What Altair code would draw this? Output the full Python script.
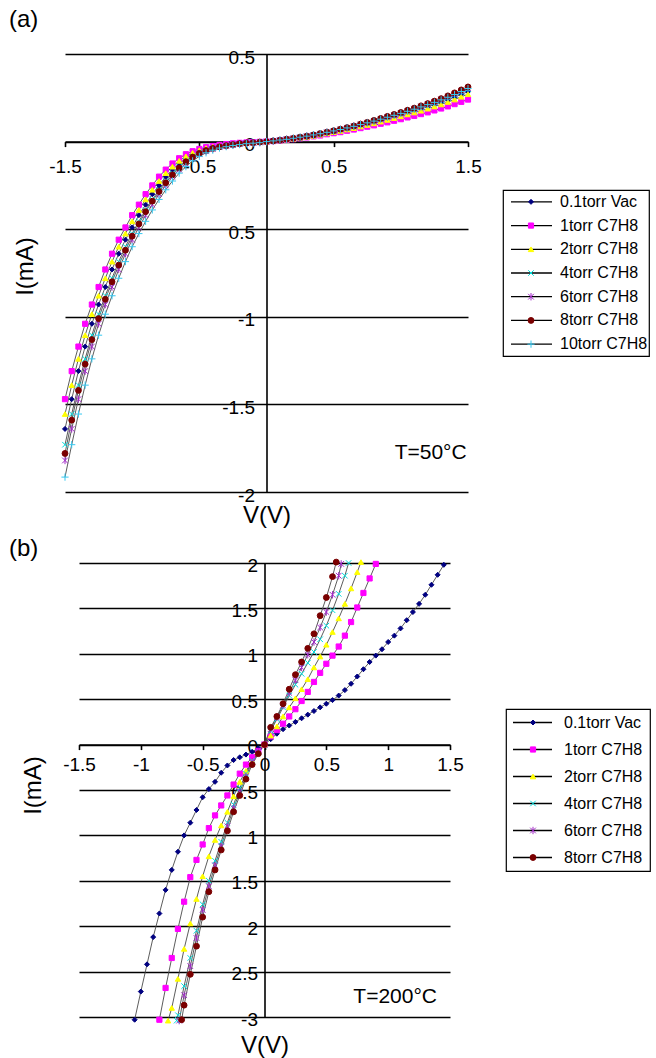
import altair as alt
import pandas as pd

FONT = "Liberation Sans"

SERIES = ["0.1torr Vac", "1torr C7H8", "2torr C7H8", "4torr C7H8",
          "6torr C7H8", "8torr C7H8", "10torr C7H8"]
COLORS = ["#000080", "#ff00ff", "#ffff00", "#00dede", "#a22cc8", "#7a0000", "#36c8f0"]
SHAPES = ["diamond", "square", "triangle-up", "M-1,-1L1,1M-1,1L1,-1",
          "M-1,-1L1,1M-1,1L1,-1M0,-1.3L0,1.3", "circle", "M-1.2,0L1.2,0M0,-1.2L0,1.2"]
SIZES_A = [25, 36, 45, 25, 30, 40, 36]
SIZES_B = [28, 30, 45, 25, 30, 40, 36]

# ---------------- panel (a), T=50 C ----------------
V_A = [-1.5, -1.45, -1.4, -1.35, -1.3, -1.25, -1.2, -1.15, -1.1, -1.05, -1.0,
       -0.95, -0.9, -0.85, -0.8, -0.75, -0.7, -0.65, -0.6, -0.55, -0.5, -0.45,
       -0.4, -0.35, -0.3, -0.25, -0.2, -0.15, -0.1, -0.05, 0.0, 0.05, 0.1, 0.15,
       0.2, 0.25, 0.3, 0.35, 0.4, 0.45, 0.5, 0.55, 0.6, 0.65, 0.7, 0.75, 0.8,
       0.85, 0.9, 0.95, 1.0, 1.05, 1.1, 1.15, 1.2, 1.25, 1.3, 1.35, 1.4, 1.45, 1.5]

I_A_VAC = [-1.64, -1.47, -1.31, -1.17, -1.04, -0.93, -0.83, -0.73, -0.64, -0.56,
           -0.49, -0.42, -0.36, -0.30, -0.25, -0.20, -0.16, -0.125, -0.095, -0.072,
           -0.055, -0.042, -0.032, -0.025, -0.019, -0.014, -0.010, -0.007, -0.005, -0.003,
           0.0,
           0.004, 0.008, 0.012, 0.017, 0.023, 0.029, 0.035, 0.042, 0.049, 0.057,
           0.065, 0.073, 0.082, 0.091, 0.101, 0.110, 0.121, 0.131, 0.142, 0.152,
           0.163, 0.175, 0.186, 0.199, 0.211, 0.224, 0.238, 0.254, 0.270, 0.285]
I_A_1 = [-1.47, -1.31, -1.17, -1.04, -0.93, -0.83, -0.73, -0.64, -0.56, -0.49,
         -0.42, -0.36, -0.30, -0.25, -0.20, -0.16, -0.125, -0.095, -0.072, -0.055,
         -0.042, -0.032, -0.025, -0.019, -0.014, -0.010, -0.007, -0.005, -0.003, -0.0015,
         0.0,
         0.003, 0.006, 0.010, 0.014, 0.019, 0.024, 0.030, 0.035, 0.042, 0.048,
         0.054, 0.062, 0.069, 0.077, 0.085, 0.093, 0.102, 0.110, 0.119, 0.128,
         0.138, 0.147, 0.157, 0.167, 0.178, 0.189, 0.201, 0.214, 0.227, 0.240]
I_A_2 = [-1.555, -1.39, -1.24, -1.105, -0.985, -0.88, -0.78, -0.685, -0.60, -0.525,
         -0.455, -0.39, -0.33, -0.275, -0.225, -0.18, -0.143, -0.11, -0.084, -0.064,
         -0.049, -0.037, -0.029, -0.022, -0.017, -0.012, -0.009, -0.006, -0.004, -0.002,
         0.0,
         0.004, 0.007, 0.012, 0.016, 0.022, 0.027, 0.033, 0.040, 0.047, 0.054,
         0.061, 0.069, 0.077, 0.086, 0.095, 0.104, 0.114, 0.124, 0.134, 0.144,
         0.155, 0.166, 0.176, 0.188, 0.200, 0.212, 0.226, 0.240, 0.256, 0.270]
I_A_4 = [-1.73, -1.555, -1.39, -1.24, -1.105, -0.985, -0.88, -0.78, -0.685, -0.60,
         -0.525, -0.455, -0.39, -0.33, -0.275, -0.225, -0.18, -0.143, -0.11, -0.084,
         -0.064, -0.049, -0.037, -0.029, -0.022, -0.017, -0.012, -0.009, -0.006, -0.004,
         0.0,
         0.004, 0.008, 0.013, 0.018, 0.024, 0.030, 0.037, 0.044, 0.052, 0.060,
         0.068, 0.077, 0.086, 0.096, 0.106, 0.116, 0.127, 0.138, 0.149, 0.160,
         0.172, 0.184, 0.196, 0.209, 0.222, 0.236, 0.251, 0.267, 0.284, 0.300]
I_A_6 = [-1.82, -1.64, -1.47, -1.31, -1.17, -1.04, -0.93, -0.83, -0.73, -0.64,
         -0.56, -0.49, -0.42, -0.36, -0.30, -0.25, -0.20, -0.16, -0.125, -0.095,
         -0.072, -0.055, -0.042, -0.032, -0.025, -0.019, -0.014, -0.010, -0.007, -0.005,
         0.0,
         0.004, 0.008, 0.013, 0.018, 0.024, 0.031, 0.038, 0.045, 0.053, 0.061,
         0.069, 0.079, 0.088, 0.098, 0.108, 0.118, 0.130, 0.141, 0.152, 0.163,
         0.175, 0.188, 0.200, 0.213, 0.226, 0.241, 0.256, 0.272, 0.290, 0.306]
I_A_8 = [-1.78, -1.59, -1.42, -1.27, -1.13, -1.01, -0.90, -0.80, -0.705, -0.62,
         -0.54, -0.47, -0.40, -0.34, -0.285, -0.235, -0.19, -0.15, -0.115, -0.088,
         -0.067, -0.051, -0.039, -0.030, -0.023, -0.017, -0.012, -0.009, -0.006, -0.003,
         0.0,
         0.004, 0.008, 0.014, 0.019, 0.025, 0.031, 0.038, 0.046, 0.054, 0.062,
         0.071, 0.080, 0.089, 0.100, 0.110, 0.121, 0.132, 0.144, 0.155, 0.166,
         0.179, 0.191, 0.204, 0.217, 0.231, 0.245, 0.261, 0.278, 0.295, 0.312]
I_A_10 = [-1.915, -1.73, -1.555, -1.39, -1.24, -1.105, -0.985, -0.88, -0.78, -0.685,
          -0.60, -0.525, -0.455, -0.39, -0.33, -0.275, -0.225, -0.18, -0.143, -0.11,
          -0.084, -0.064, -0.049, -0.037, -0.029, -0.022, -0.017, -0.012, -0.009, -0.006,
          0.0,
          0.004, 0.009, 0.013, 0.019, 0.025, 0.031, 0.038, 0.045, 0.053, 0.061,
          0.069, 0.078, 0.087, 0.097, 0.107, 0.117, 0.128, 0.139, 0.150, 0.161,
          0.173, 0.185, 0.198, 0.211, 0.224, 0.238, 0.253, 0.269, 0.286, 0.303]

XT_A = [-1.5, -0.5, 0.5, 1.5]
XL_A = ["-1.5", "-0.5", "0.5", "1.5"]
YT_A = [0.5, 0.0, -0.5, -1.0, -1.5, -2.0]
YL_A = ["0.5", "0", "0.5", "-1", "-1.5", "-2"]

# ---------------- panel (b), T=200 C ----------------
V_B_VAC = [-1.05, -1.0, -0.95, -0.9, -0.85, -0.8, -0.75, -0.7, -0.65, -0.6, -0.55,
           -0.5, -0.45, -0.4, -0.35, -0.3, -0.25, -0.2, -0.15, -0.1, -0.05, 0.0,
           0.05, 0.1, 0.15, 0.2, 0.25, 0.3, 0.35, 0.4, 0.45, 0.5, 0.55, 0.6, 0.65,
           0.7, 0.75, 0.8, 0.85, 0.9, 0.95, 1.0, 1.05, 1.1, 1.15, 1.2, 1.25, 1.3,
           1.35, 1.4, 1.45]
I_B_VAC = [-3.03, -2.72, -2.42, -2.12, -1.86, -1.60, -1.38, -1.18, -1.00, -0.86, -0.72,
           -0.58, -0.49, -0.41, -0.31, -0.23, -0.17, -0.14, -0.11, -0.08, -0.04, 0.0,
           0.06, 0.12, 0.17, 0.21, 0.25, 0.29, 0.33, 0.37, 0.41, 0.45, 0.49, 0.54, 0.60,
           0.67, 0.75, 0.83, 0.91, 0.98, 1.05, 1.13, 1.20, 1.28, 1.37, 1.46, 1.55, 1.65,
           1.76, 1.87, 1.98]
V_B_1 = [-0.85, -0.8, -0.75, -0.7, -0.65, -0.6, -0.55, -0.5, -0.45, -0.4, -0.35, -0.3,
         -0.25, -0.2, -0.15, -0.1, -0.05, 0.0, 0.05, 0.1, 0.15, 0.2, 0.25, 0.3, 0.35,
         0.4, 0.45, 0.5, 0.55, 0.6, 0.65, 0.7, 0.75, 0.8, 0.85, 0.9]
I_B_1 = [-3.03, -2.68, -2.35, -2.03, -1.73, -1.46, -1.27, -1.10, -0.92, -0.78, -0.67, -0.56,
         -0.44, -0.32, -0.22, -0.14, -0.07, 0.0, 0.09, 0.16, 0.23, 0.31, 0.39, 0.48, 0.58,
         0.69, 0.79, 0.89, 0.98, 1.08, 1.20, 1.35, 1.51, 1.67, 1.83, 1.99]
V_B_2 = [-0.78, -0.75, -0.7, -0.65, -0.6, -0.55, -0.5, -0.45, -0.4, -0.35, -0.3, -0.25,
         -0.2, -0.15, -0.1, -0.05, 0.0, 0.05, 0.1, 0.15, 0.2, 0.25, 0.3, 0.35, 0.4,
         0.45, 0.5, 0.55, 0.6, 0.65, 0.7, 0.75, 0.78]
I_B_2 = [-3.04, -2.90, -2.58, -2.25, -1.97, -1.70, -1.45, -1.23, -1.05, -0.89, -0.74, -0.57,
         -0.41, -0.29, -0.19, -0.09, 0.0, 0.10, 0.20, 0.31, 0.41, 0.51, 0.61, 0.72, 0.85,
         0.97, 1.10, 1.24, 1.39, 1.55, 1.72, 1.90, 2.01]
V_B_4 = [-0.71, -0.7, -0.65, -0.6, -0.55, -0.5, -0.45, -0.4, -0.35, -0.3, -0.25, -0.2,
         -0.15, -0.1, -0.05, 0.0, 0.05, 0.1, 0.15, 0.2, 0.25, 0.3, 0.35, 0.4, 0.45,
         0.5, 0.55, 0.6, 0.65, 0.68]
I_B_4 = [-3.04, -2.98, -2.66, -2.35, -2.05, -1.76, -1.50, -1.28, -1.07, -0.86, -0.66, -0.48,
         -0.32, -0.18, -0.08, 0.0, 0.15, 0.28, 0.41, 0.54, 0.66, 0.78, 0.90, 1.02, 1.16,
         1.31, 1.48, 1.66, 1.86, 2.00]
V_B_6 = [-0.69, -0.65, -0.6, -0.55, -0.5, -0.45, -0.4, -0.35, -0.3, -0.25, -0.2, -0.15,
         -0.1, -0.05, 0.0, 0.05, 0.1, 0.15, 0.2, 0.25, 0.3, 0.35, 0.4, 0.45, 0.5,
         0.55, 0.6, 0.62]
I_B_6 = [-3.04, -2.76, -2.44, -2.13, -1.82, -1.56, -1.33, -1.12, -0.90, -0.70, -0.52, -0.35,
         -0.19, -0.08, 0.0, 0.17, 0.30, 0.43, 0.57, 0.71, 0.85, 0.99, 1.13, 1.29, 1.46,
         1.65, 1.86, 1.99]
V_B_8 = [-0.67, -0.65, -0.6, -0.55, -0.5, -0.45, -0.4, -0.35, -0.3, -0.25, -0.2, -0.15,
         -0.1, -0.05, 0.0, 0.05, 0.1, 0.15, 0.2, 0.25, 0.3, 0.35, 0.4, 0.45, 0.5,
         0.55, 0.58]
I_B_8 = [-3.03, -2.87, -2.53, -2.22, -1.90, -1.62, -1.38, -1.16, -0.95, -0.74, -0.56, -0.38,
         -0.22, -0.10, 0.0, 0.19, 0.31, 0.45, 0.61, 0.77, 0.91, 1.06, 1.22, 1.42, 1.62,
         1.85, 2.01]

XT_B = [-1.5, -1.0, -0.5, 0.0, 0.5, 1.0, 1.5]
XL_B = ["-1.5", "-1", "-0.5", "0", "0.5", "1", "1.5"]
YT_B = [2.0, 1.5, 1.0, 0.5, 0.0, -0.5, -1.0, -1.5, -2.0, -2.5, -3.0]
YL_B = ["2", "1.5", "1", "0.5", "0", "0.5", "1", "1.5", "2", "2.5", "-3"]


def make_df(names, vlists, ilists):
    rows = []
    for name, vs, cur in zip(names, vlists, ilists):
        assert len(vs) == len(cur), name
        for v, i in zip(vs, cur):
            rows.append({"series": name, "V": v, "I": i})
    return pd.DataFrame(rows)


DF_A = make_df(SERIES, [V_A] * 7, [I_A_VAC, I_A_1, I_A_2, I_A_4, I_A_6, I_A_8, I_A_10])
DF_B = make_df(SERIES[:6], [V_B_VAC, V_B_1, V_B_2, V_B_4, V_B_6, V_B_8],
               [I_B_VAC, I_B_1, I_B_2, I_B_4, I_B_6, I_B_8])


def lab_expr(vals, labs):
    parts = [f"datum.value == {v} ? '{l}'" for v, l in zip(vals, labs)]
    return " : ".join(parts) + " : ''"


def marker_enc(series, sizes):
    n = len(series)
    return dict(
        shape=alt.Shape("series:N", scale=alt.Scale(domain=series, range=SHAPES[:n]), legend=None),
        fill=alt.Fill("series:N", scale=alt.Scale(domain=series, range=COLORS[:n]), legend=None),
        stroke=alt.Stroke("series:N", scale=alt.Scale(domain=series, range=COLORS[:n]), legend=None),
        size=alt.Size("series:N", scale=alt.Scale(domain=series, range=sizes[:n]), legend=None),
    )


def panel(df, series, sizes, W, H, xdom, ydom, xt, xl, yt, yl, xlp, ylp, ylo,
          xty, ytx, yty, tag, tag_x, tag_y, note, note_v, note_i):
    y0 = H * ydom[1] / (ydom[1] - ydom[0])
    xs = alt.Scale(domain=xdom, nice=False, zero=False)
    ys = alt.Scale(domain=ydom, nice=False, zero=False)
    x_axis = alt.Axis(values=xt, labelExpr=lab_expr(xt, xl), orient="bottom",
                      offset=-(H - y0), grid=False, domain=True, domainColor="black",
                      domainWidth=1.6, ticks=True, tickSize=5, tickColor="black",
                      tickWidth=1.6, labelFont=FONT, labelFontSize=19, labelColor="black",
                      labelPadding=xlp, labelFlush=False, labelOverlap=False,
                      title="V(V)", titleFont=FONT, titleFontSize=24,
                      titleFontWeight="normal", titleColor="black", titleY=xty)
    y_axis = alt.Axis(values=yt, labelExpr=lab_expr(yt, yl), orient="left",
                      offset=-W / 2, grid=True, gridColor="black", gridWidth=1.6,
                      domain=True, domainColor="black", domainWidth=1.6, ticks=False,
                      tickSize=0, labelFont=FONT, labelFontSize=19, labelColor="black",
                      labelPadding=ylp, labelOffset=ylo, labelOverlap=False,
                      labelFlush=False, minExtent=0,
                      title="I(mA)", titleFont=FONT, titleFontSize=24,
                      titleFontWeight="normal", titleColor="black", titleX=ytx, titleY=yty)
    base = alt.Chart(df)
    lines = base.mark_line(color="#4a4a4a", strokeWidth=0.9).encode(
        x=alt.X("V:Q", scale=xs, axis=x_axis),
        y=alt.Y("I:Q", scale=ys, axis=y_axis),
        detail="series:N",
    )
    pts = base.mark_point(filled=True, strokeWidth=1, opacity=1).encode(
        x=alt.X("V:Q", scale=xs),
        y=alt.Y("I:Q", scale=ys),
        **marker_enc(series, sizes),
    )
    note_c = alt.Chart(pd.DataFrame({"V": [note_v], "I": [note_i], "t": [note]})).mark_text(
        align="right", baseline="middle", font=FONT, fontSize=21, color="black"
    ).encode(x=alt.X("V:Q", scale=xs), y=alt.Y("I:Q", scale=ys), text="t:N")
    tag_c = alt.Chart(pd.DataFrame({"t": [tag]})).mark_text(
        align="left", baseline="middle", font=FONT, fontSize=24, color="black"
    ).encode(x=alt.value(tag_x), y=alt.value(tag_y), text="t:N")
    return alt.layer(lines, pts, note_c, tag_c).properties(width=W, height=H)


def legend_box(series, sizes, W, H, rx1, rx2, mx, tx, fs):
    ldf = pd.DataFrame({"series": series})
    y = alt.Y("series:N", sort=series, scale=alt.Scale(domain=series), axis=None)
    rule = alt.Chart(ldf).mark_rule(color="black", strokeWidth=1.3).encode(
        x=alt.value(rx1), x2=alt.value(rx2), y=y)
    pts = alt.Chart(ldf).mark_point(filled=True, strokeWidth=1, opacity=1).encode(
        x=alt.value(mx), y=y, **marker_enc(series, sizes))
    txt = alt.Chart(ldf).mark_text(align="left", baseline="middle", font=FONT,
                                   fontSize=fs, color="black").encode(
        x=alt.value(tx), y=y, text="series:N")
    return alt.layer(rule, pts, txt).properties(
        width=W, height=H, view=alt.ViewBackground(stroke="black", strokeWidth=1.2))


WA, HA = 403, 438
WB, HB = 371, 454

panel_a = panel(DF_A, SERIES, SIZES_A, WA, HA, [-1.5, 1.5], [-2.0, 0.5],
                XT_A, XL_A, YT_A, YL_A, xlp=11, ylp=12, ylo=3,
                xty=362, ytx=-229.5, yty=212, tag="(a)", tag_x=-56, tag_y=-34,
                note="T=50°C", note_v=1.49, note_i=-1.778)
panel_b = panel(DF_B, SERIES[:6], SIZES_B, WB, HB, [-1.5, 1.5], [-3.0, 2.0],
                XT_B, XL_B, YT_B, YL_B, xlp=6, ylp=7, ylo=2,
                xty=289, ytx=-219, yty=222, tag="(b)", tag_x=-70, tag_y=-14,
                note="T=200°C", note_v=1.395, note_i=-2.78)

legend_a = legend_box(SERIES, SIZES_A, 146, 166, 8, 49, 28, 57, 16)
legend_b = legend_box(SERIES[:6], SIZES_B, 144, 162, 7, 46, 27, 58, 16)

# small empty spacer so that panel (b) starts a little to the right of panel (a)
spacer = alt.Chart(pd.DataFrame({"s": [0]})).mark_point(opacity=0).encode(
    x=alt.value(0), y=alt.value(0)).properties(width=1, height=1)

row_a = alt.hconcat(panel_a, legend_a, spacing=35, center=True, bounds="flush")
row_b = alt.hconcat(
    spacer,
    alt.hconcat(panel_b, legend_b, spacing=56, center=True, bounds="flush"),
    spacing=13, bounds="flush")

chart = alt.vconcat(row_a, row_b, spacing=9).properties(
    padding={"left": 9, "top": 8, "right": 0, "bottom": 0},
    background="white",
).configure_view(strokeWidth=0)

chart.save("out.html", embed_options={"renderer": "svg", "actions": False})
